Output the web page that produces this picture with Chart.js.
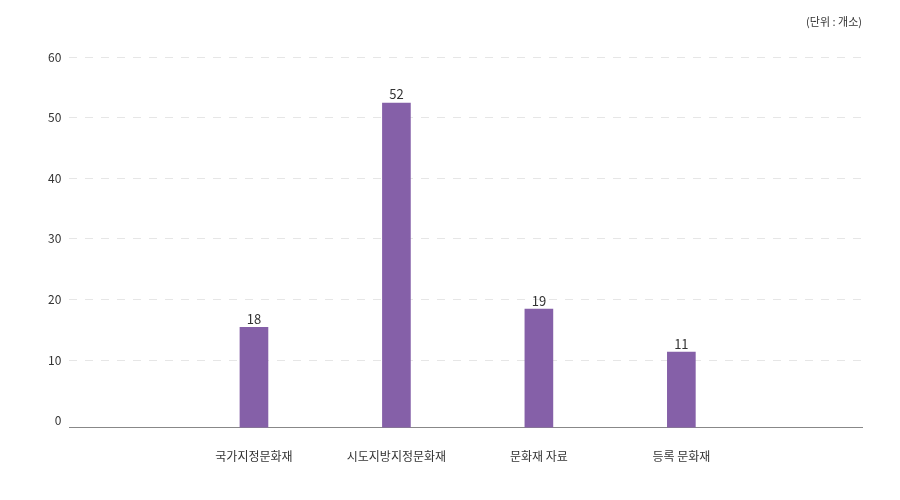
<!DOCTYPE html>
<html><head><meta charset="utf-8">
<script src="https://cdn.jsdelivr.net/npm/chart.js@4"></script>
<style>html,body{margin:0;padding:0;background:#fff}#w{position:relative;width:900px;height:500px}
#u{position:absolute;right:38px;top:13px;font:11px "Noto Sans CJK KR";color:#333}</style>
</head><body><div id="w"><canvas id="c" width="900" height="500"></canvas><div id="u">(단위 : 개소)</div></div>
<script>
const categories = ['국가지정문화재','시도지방지정문화재','문화재 자료','등록 문화재'];
const barValues = [15.4, 52.4, 18.4, 11.3];
const valueLabels = ['18','52','19','11'];
const yTicks = [0,10,20,30,40,50,60];

const labelPlugin = {
  id:'vl',
  afterDatasetsDraw(chart){
    const ctx=chart.ctx, meta=chart.getDatasetMeta(0);
    ctx.save();ctx.font='13px "Noto Sans CJK KR"';ctx.fillStyle='#333';ctx.textAlign='center';ctx.textBaseline='bottom';
    meta.data.forEach((b,i)=>ctx.fillText(valueLabels[i],b.x,b.y-2));
    ctx.restore();
  }
};
new Chart(document.getElementById('c'),{
  type:'bar',
  data:{datasets:[{data:barValues.map((v,i)=>({x:i,y:v})),backgroundColor:'#8560a8',barThickness:28,base:-1.15}]},
  options:{
    responsive:false,animation:false,
    layout:{padding:{left:40,right:38,top:57,bottom:22}},
    plugins:{legend:{display:false},tooltip:{enabled:false}},
    scales:{
      x:{type:'linear',offset:false,min:-1.296,max:4.268,
        afterBuildTicks(s){s.ticks=[0,1,2,3].map(v=>({value:v}));},
        ticks:{callback:v=>categories[v]??'',color:'#333',font:{size:12,family:'Noto Sans CJK KR'},padding:14},
        grid:{display:false},border:{color:'#888'}},
      y:{min:-1.15,max:60,
        afterBuildTicks(s){s.ticks=yTicks.map(v=>({value:v}));},
        ticks:{color:'#333',font:{size:12,family:'Noto Sans CJK KR'},padding:8},
        grid:{color:ctx=>ctx.tick&&ctx.tick.value===0?'rgba(0,0,0,0)':'#e6e6e6',drawTicks:false},
        border:{display:false,dash:[8,8]}}
    }
  },
  plugins:[labelPlugin]
});
</script></body></html>
